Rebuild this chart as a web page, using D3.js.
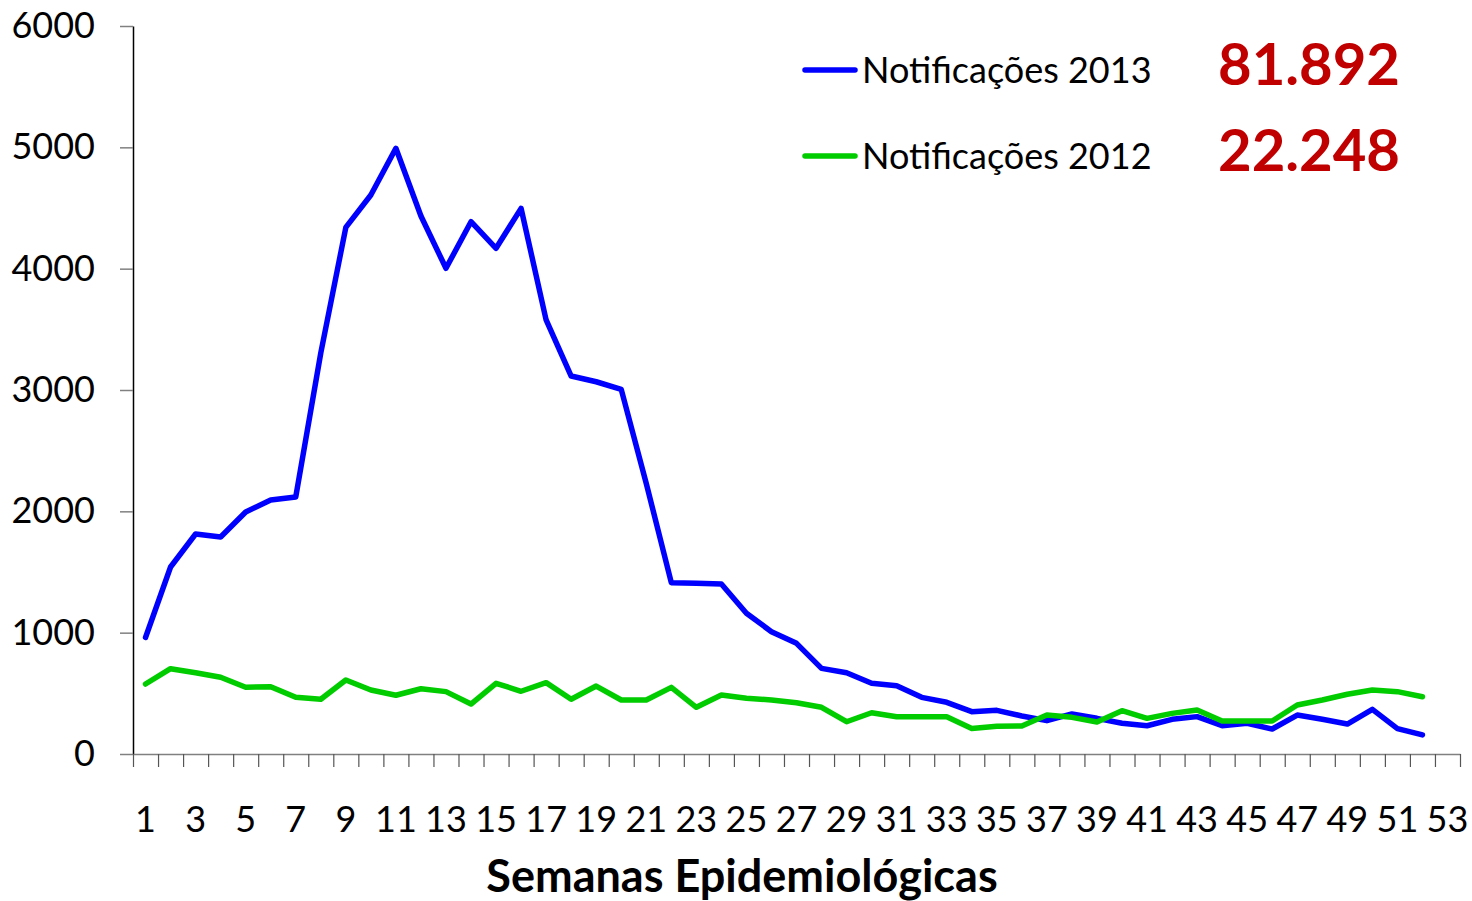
<!DOCTYPE html>
<html>
<head>
<meta charset="utf-8">
<script src="https://cdn.jsdelivr.net/npm/d3@7"></script>
<style>
  html, body { margin: 0; padding: 0; background: #fff; }
  svg { display: block; }
  text { font-family: Lato, "Open Sans", sans-serif; }
</style>
</head>
<body>
<script>
// Epidemiological weeks on the category axis (53 slots, data for 52)
const weeks = d3.range(1, 54);
const weekLabels = weeks.filter(w => w % 2 === 1);

// Weekly notifications, 2013
const notif2013 = [
  960, 1541, 1813, 1789, 1995, 2093, 2118, 3305, 4340, 4607,
  4992, 4434, 4003, 4387, 4168, 4497, 3577, 3115, 3068, 3005,
  2230, 1412, 1407, 1401, 1160, 1008, 912, 706, 670, 583,
  563, 467, 426, 349, 360, 313, 275, 330, 294, 253,
  233, 286, 308, 233, 253, 206, 321, 286, 247, 368,
  209, 157
];

// Weekly notifications, 2012
const notif2012 = [
  577, 703, 670, 632, 550, 555, 467, 451, 610, 527,
  484, 538, 514, 412, 583, 517, 588, 451, 560, 445,
  445, 549, 385, 486, 459, 445, 423, 385, 266, 340,
  307, 307, 307, 211, 228, 231, 321, 302, 264, 357,
  294, 335, 363, 272, 272, 272, 404, 445, 492, 527,
  514, 472
];

const yTicks = [0, 1000, 2000, 3000, 4000, 5000, 6000];

const seriesNames = ["Notificações 2013", "Notificações 2012"];
const seriesTotals = ["81.892", "22.248"];
const seriesColors = ["#0000FF", "#00CC00"];

const W = 1472, H = 901;
const plot = { left: 133, right: 1460, top: 26, bottom: 754 };

const svg = d3.select("body").append("svg")
  .attr("width", W).attr("height", H);

const x = d3.scaleBand().domain(weeks).range([plot.left, plot.right]).padding(0);
const xEdge = d3.scaleLinear().domain([0, weeks.length]).range([plot.left, plot.right]);
const y = d3.scaleLinear().domain([0, 6000]).range([plot.bottom, plot.top]);

// Y axis
const yAxis = svg.append("g")
  .attr("transform", `translate(${plot.left},0)`)
  .call(d3.axisLeft(y).tickValues(yTicks).tickFormat(d3.format("d"))
    .tickSize(13).tickPadding(25).tickSizeOuter(0));
yAxis.select(".domain").attr("stroke", "#000").attr("stroke-width", 1.5);
yAxis.selectAll(".tick line").attr("stroke", "#808080").attr("stroke-width", 1.5);
yAxis.selectAll(".tick text")
  .attr("font-size", 36).attr("fill", "#000")
  .attr("font-family", "Lato, sans-serif");

// X axis: tick marks on the category boundaries
const xTickAxis = svg.append("g")
  .attr("transform", `translate(0,${plot.bottom})`)
  .call(d3.axisBottom(xEdge).tickValues(d3.range(0, weeks.length + 1)).tickFormat("").tickSize(13).tickSizeOuter(0));
xTickAxis.select(".domain").attr("stroke", "#808080").attr("stroke-width", 1.5);
xTickAxis.selectAll(".tick line").attr("stroke", "#555").attr("stroke-width", 1.2);

// X axis: labels centred on the odd weeks
const xLabelAxis = svg.append("g")
  .attr("transform", `translate(0,${plot.bottom})`)
  .call(d3.axisBottom(x).tickValues(weekLabels).tickSize(0).tickPadding(52));
xLabelAxis.select(".domain").remove();
xLabelAxis.selectAll(".tick text")
  .attr("font-size", 36).attr("fill", "#000")
  .attr("font-family", "Lato, sans-serif");

// Axis title
svg.append("text")
  .attr("x", 742).attr("y", 892)
  .attr("text-anchor", "middle")
  .attr("font-size", 45).attr("font-weight", "bold")
  .attr("fill", "#000")
  .text("Semanas Epidemiológicas");

// Lines
const line = d3.line()
  .x((d, i) => x(weeks[i]) + x.bandwidth() / 2)
  .y(d => y(d));

[notif2013, notif2012].forEach((data, k) => {
  svg.append("path")
    .datum(data)
    .attr("fill", "none")
    .attr("stroke", seriesColors[k])
    .attr("stroke-width", 5.5)
    .attr("stroke-linejoin", "round")
    .attr("stroke-linecap", "round")
    .attr("d", line);
});

// Legend with yearly totals
const legendRows = [70, 156];
seriesNames.forEach((name, k) => {
  const g = svg.append("g").attr("transform", `translate(0,${legendRows[k]})`);
  g.append("line")
    .attr("x1", 805).attr("x2", 855)
    .attr("y1", 0).attr("y2", 0)
    .attr("stroke", seriesColors[k])
    .attr("stroke-width", 5.5)
    .attr("stroke-linecap", "round");
  g.append("text")
    .attr("x", 862).attr("y", 13)
    .attr("font-size", 36).attr("fill", "#000")
    .text(name);
  g.append("text")
    .attr("x", 1400).attr("y", 15)
    .attr("text-anchor", "end")
    .attr("font-size", 58).attr("font-weight", "bold")
    .attr("fill", "#C00000")
    .text(seriesTotals[k]);
});
</script>
</body>
</html>
